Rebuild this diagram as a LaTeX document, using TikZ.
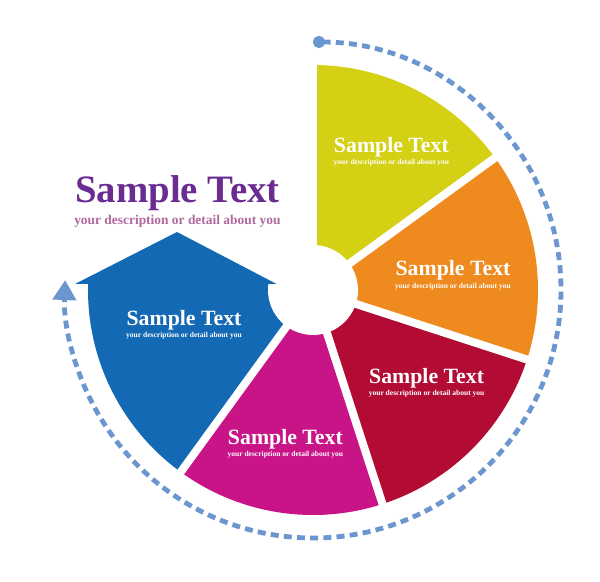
\documentclass[tikz,border=0pt]{standalone}
\usepackage{fontspec}
\setmainfont{Liberation Serif}
\usepackage{tikz}
\usetikzlibrary{arrows.meta}
\definecolor{segYellow}{HTML}{D4D013}
\definecolor{segOrange}{HTML}{EE8A1E}
\definecolor{segCrimson}{HTML}{B20C34}
\definecolor{segMagenta}{HTML}{C81487}
\definecolor{segBlue}{HTML}{1469B4}
\definecolor{ringBlue}{HTML}{6C96D0}
\definecolor{titlePurple}{HTML}{6A2C91}
\definecolor{titleMauve}{HTML}{B0689E}

\begin{document}
\begin{tikzpicture}[
  gapline/.style={white, line width=0.2cm},
  headtext/.style={white, font=\fontsize{15.5}{17}\selectfont\bfseries, anchor=base, inner sep=0pt},
  subtext/.style={white, font=\fontsize{5.35}{6}\selectfont\bfseries, anchor=base, inner sep=0pt}]
  \useasboundingbox (-7.825,-7.3) rectangle (7.175,7.25);
  % the five segments
  \fill[segYellow]  (0,0) -- (36:5.625) arc[start angle=36, end angle=90, radius=5.625] -- cycle;
  \fill[segOrange]  (0,0) -- (-18:5.625) arc[start angle=-18, end angle=36, radius=5.625] -- cycle;
  \fill[segCrimson] (0,0) -- (-72:5.625) arc[start angle=-72, end angle=-18, radius=5.625] -- cycle;
  \fill[segMagenta] (0,0) -- (-126:5.625) arc[start angle=-126, end angle=-72, radius=5.625] -- cycle;
  \fill[segBlue] (0,0.15) -- (178.47:5.625) arc[start angle=178.47, end angle=234, radius=5.625] -- (0,0) -- cycle;
  \foreach \a in {90,36,-18,-72,-126}
    \draw[gapline] (0,0) -- (\a:5.8);
  \fill[white] (0,0) circle (1.125);
  % roof of the blue one
  \fill[segBlue] (-5.95,0.15) -- (-3.4,1.45) -- (-0.91,0.15) -- cycle;
  % dotted ring round it
  \draw[ringBlue, line width=0.12cm, dash pattern=on 0.2cm off 0.13cm,
        {Circle[length=0.3cm]}-{Triangle[width=0.575cm, length=0.5cm]}]
    (90:6.2) arc[start angle=90, end angle=-182.3, radius=6.2];
  % title
  \node[titlePurple, font=\fontsize{27.6}{30}\selectfont\bfseries, anchor=base, inner sep=0pt] (title) at (-3.39,2.175) {Sample Text};
  \node[titleMauve, font=\fontsize{9.55}{11}\selectfont\bfseries, anchor=base, inner sep=0pt] (titlesub) at (-3.39,1.625) {your description or detail about you};
  % segment labels
  \node[headtext] (yhead) at (1.96,3.425) {Sample Text};
  \node[subtext]  (ysub)  at (1.96,3.125) {your description or detail about you};
  \node[headtext] (ohead) at (3.5,0.35) {Sample Text};
  \node[subtext]  (osub)  at (3.5,0.04) {your description or detail about you};
  \node[headtext] (chead) at (2.84,-2.33) {Sample Text};
  \node[subtext]  (csub)  at (2.84,-2.64) {your description or detail about you};
  \node[headtext] (mhead) at (-0.69,-3.86) {Sample Text};
  \node[subtext]  (msub)  at (-0.69,-4.17) {your description or detail about you};
  \node[headtext] (bhead) at (-3.225,-0.9) {Sample Text};
  \node[subtext]  (bsub)  at (-3.225,-1.19) {your description or detail about you};
\end{tikzpicture}
\end{document}
